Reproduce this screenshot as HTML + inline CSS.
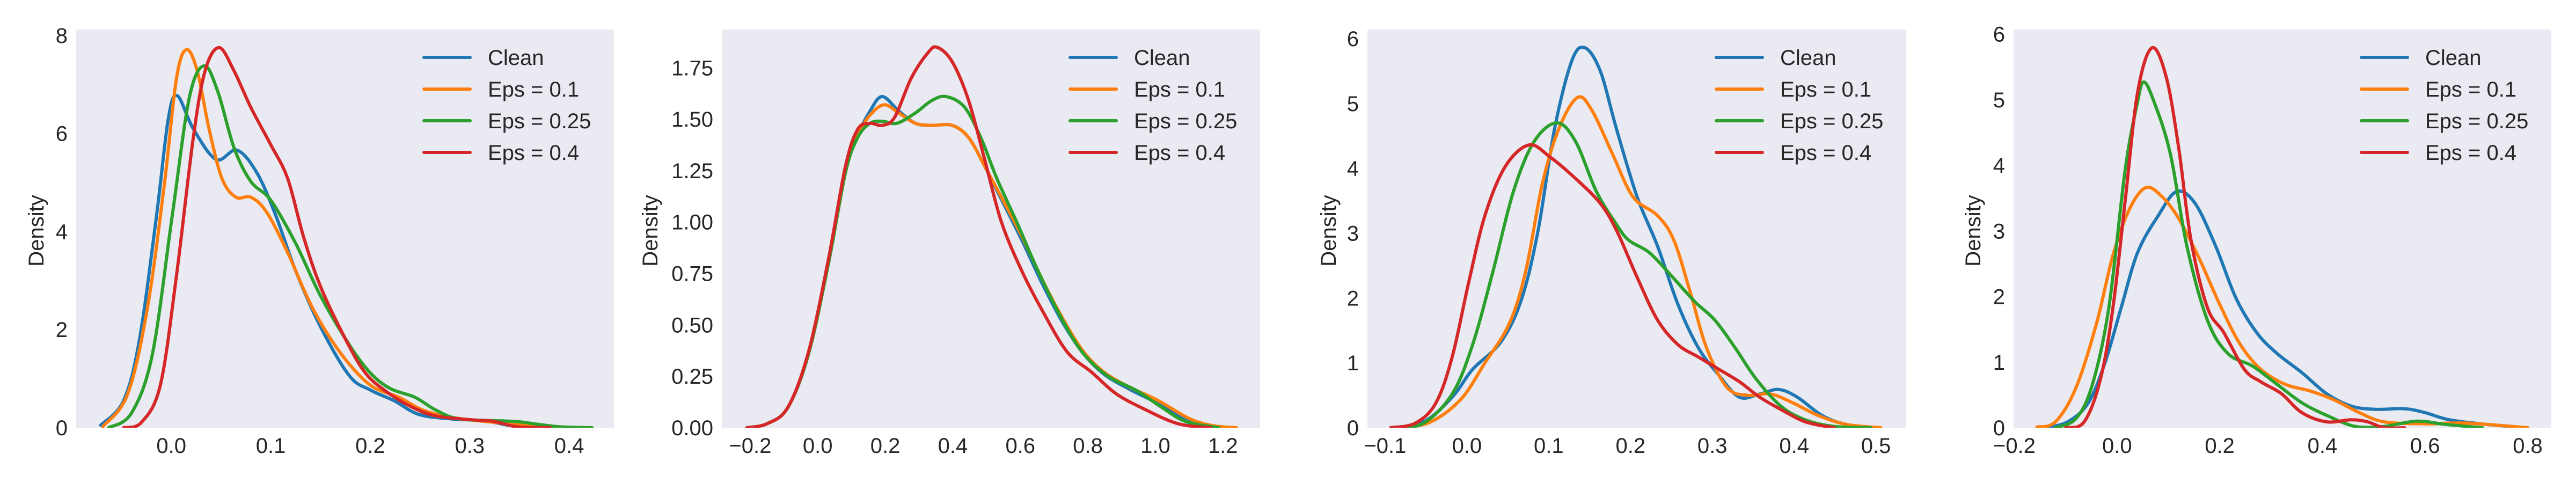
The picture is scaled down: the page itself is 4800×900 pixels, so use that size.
<!DOCTYPE html>
<html><head><meta charset="utf-8">
<style>
html,body{margin:0;padding:0;background:#fff;}
svg{display:block;font-family:"Liberation Sans",Arial,sans-serif;}
</style></head>
<body>
<svg id="fig" width="4800" height="900" viewBox="0 0 4800 900" xmlns="http://www.w3.org/2000/svg"></svg>
<script>
const seriesNames = ["Clean","Eps = 0.1","Eps = 0.25","Eps = 0.4"];
const seriesColors = ["#1f77b4","#ff7f0e","#2ca02c","#d62728"];

// Panel 1
const p1XTicks = [0.0,0.1,0.2,0.3,0.4];
const p1XLabels = ["0.0","0.1","0.2","0.3","0.4"];
const p1YTicks = [0,2,4,6,8];
const p1YLabels = ["0","2","4","6","8"];
const p1Clean = [[-0.071,0.05],[-0.048,0.55],[-0.032,1.8],[-0.015,4.3],[-0.003,6.3],[0.006,6.77],[0.022,6.1],[0.045,5.47],[0.066,5.66],[0.086,5.2],[0.105,4.33],[0.125,3.2],[0.15,2.06],[0.179,1.06],[0.2,0.77],[0.224,0.55],[0.249,0.27],[0.282,0.18],[0.315,0.14],[0.348,0.02],[0.377,0]];
const p1Eps01 = [[-0.069,0.02],[-0.044,0.68],[-0.024,2.44],[-0.007,4.96],[0.005,7.1],[0.015,7.71],[0.026,7.28],[0.038,6.09],[0.051,5.08],[0.065,4.7],[0.08,4.7],[0.096,4.39],[0.117,3.57],[0.142,2.44],[0.171,1.5],[0.2,0.87],[0.229,0.62],[0.253,0.36],[0.282,0.21],[0.324,0.11],[0.365,0.03],[0.381,0]];
const p1Eps025 = [[-0.063,0],[-0.04,0.3],[-0.019,1.5],[0.001,4.33],[0.018,6.72],[0.033,7.38],[0.047,6.84],[0.063,5.71],[0.08,5.02],[0.1,4.64],[0.125,3.76],[0.15,2.69],[0.179,1.69],[0.2,1.12],[0.22,0.8],[0.245,0.62],[0.266,0.36],[0.29,0.18],[0.344,0.13],[0.365,0.08],[0.39,0.02],[0.423,0]];
const p1Eps04 = [[-0.048,0],[-0.03,0.11],[-0.011,0.87],[0.005,3.07],[0.022,5.9],[0.034,7.28],[0.048,7.75],[0.063,7.28],[0.08,6.53],[0.1,5.77],[0.117,5.08],[0.133,3.89],[0.15,2.88],[0.175,1.81],[0.195,1.12],[0.216,0.74],[0.241,0.43],[0.266,0.24],[0.303,0.16],[0.324,0.13],[0.348,0.02],[0.381,0]];

// Panel 2
const p2XTicks = [-0.2,0.0,0.2,0.4,0.6,0.8,1.0,1.2];
const p2XLabels = ["\u22120.2","0.0","0.2","0.4","0.6","0.8","1.0","1.2"];
const p2YTicks = [0,0.25,0.5,0.75,1.0,1.25,1.5,1.75];
const p2YLabels = ["0.00","0.25","0.50","0.75","1.00","1.25","1.50","1.75"];
const p2Clean = [[-0.21,0],[-0.149,0.02],[-0.088,0.1],[-0.027,0.36],[0.033,0.81],[0.082,1.24],[0.118,1.42],[0.155,1.54],[0.191,1.61],[0.24,1.54],[0.289,1.48],[0.337,1.47],[0.398,1.47],[0.447,1.41],[0.495,1.27],[0.544,1.11],[0.605,0.91],[0.665,0.7],[0.726,0.51],[0.787,0.36],[0.848,0.26],[0.92,0.19],[1.005,0.12],[1.09,0.045],[1.163,0.01],[1.236,0]];
const p2Eps01 = [[-0.21,0],[-0.149,0.02],[-0.088,0.1],[-0.027,0.36],[0.033,0.81],[0.082,1.24],[0.118,1.42],[0.155,1.52],[0.197,1.57],[0.24,1.53],[0.289,1.48],[0.337,1.47],[0.398,1.47],[0.447,1.41],[0.495,1.27],[0.544,1.12],[0.605,0.93],[0.665,0.72],[0.726,0.53],[0.787,0.37],[0.848,0.27],[0.92,0.2],[1.005,0.135],[1.1,0.045],[1.17,0.01],[1.24,0]];
const p2Eps025 = [[-0.21,0],[-0.149,0.02],[-0.088,0.1],[-0.027,0.36],[0.033,0.81],[0.082,1.24],[0.118,1.41],[0.155,1.48],[0.191,1.49],[0.234,1.48],[0.289,1.53],[0.337,1.59],[0.38,1.61],[0.434,1.56],[0.483,1.41],[0.531,1.21],[0.592,0.99],[0.653,0.76],[0.726,0.52],[0.787,0.36],[0.86,0.25],[0.945,0.18],[1.018,0.1],[1.09,0.03],[1.188,0]];
const p2Eps04 = [[-0.21,0],[-0.149,0.02],[-0.088,0.1],[-0.027,0.37],[0.033,0.83],[0.082,1.27],[0.118,1.45],[0.155,1.48],[0.191,1.47],[0.228,1.51],[0.277,1.7],[0.325,1.82],[0.353,1.85],[0.398,1.78],[0.447,1.59],[0.495,1.3],[0.544,1.0],[0.605,0.76],[0.665,0.57],[0.738,0.37],[0.811,0.27],[0.884,0.165],[0.968,0.09],[1.066,0.02],[1.163,0]];

// Panel 3
const p3XTicks = [-0.1,0.0,0.1,0.2,0.3,0.4,0.5];
const p3XLabels = ["\u22120.1","0.0","0.1","0.2","0.3","0.4","0.5"];
const p3YTicks = [0,1,2,3,4,5,6];
const p3YLabels = ["0","1","2","3","4","5","6"];
const p3Clean = [[-0.093,0],[-0.053,0.09],[-0.018,0.47],[0.007,0.9],[0.042,1.33],[0.067,1.99],[0.087,3.04],[0.107,4.6],[0.128,5.65],[0.144,5.86],[0.163,5.5],[0.183,4.6],[0.208,3.56],[0.233,2.8],[0.258,1.9],[0.283,1.23],[0.308,0.81],[0.333,0.47],[0.358,0.52],[0.381,0.59],[0.404,0.47],[0.434,0.19],[0.464,0.05],[0.504,0]];
const p3Eps01 = [[-0.093,0],[-0.048,0.07],[-0.008,0.43],[0.022,1.0],[0.052,1.61],[0.072,2.42],[0.092,3.75],[0.112,4.6],[0.135,5.09],[0.153,4.89],[0.178,4.22],[0.203,3.56],[0.233,3.27],[0.253,2.89],[0.273,2.09],[0.293,1.23],[0.318,0.62],[0.343,0.5],[0.371,0.52],[0.399,0.38],[0.429,0.19],[0.464,0.05],[0.506,0]];
const p3Eps025 = [[-0.088,0],[-0.053,0.07],[-0.018,0.52],[0.007,1.28],[0.032,2.42],[0.057,3.65],[0.082,4.41],[0.11,4.7],[0.133,4.41],[0.158,3.65],[0.183,3.13],[0.198,2.89],[0.223,2.7],[0.248,2.37],[0.278,1.95],[0.303,1.66],[0.328,1.23],[0.353,0.76],[0.384,0.33],[0.414,0.12],[0.449,0.02],[0.494,0]];
const p3Eps04 = [[-0.093,0],[-0.063,0.07],[-0.038,0.38],[-0.018,1.09],[0.002,2.23],[0.022,3.27],[0.047,4.03],[0.076,4.36],[0.102,4.17],[0.133,3.84],[0.163,3.46],[0.183,3.04],[0.208,2.32],[0.233,1.66],[0.258,1.28],[0.283,1.09],[0.308,0.9],[0.333,0.71],[0.358,0.47],[0.384,0.28],[0.414,0.09],[0.449,0]];

// Panel 4
const p4XTicks = [-0.2,0.0,0.2,0.4,0.6,0.8];
const p4XLabels = ["\u22120.2","0.0","0.2","0.4","0.6","0.8"];
const p4YTicks = [0,1,2,3,4,5,6];
const p4YLabels = ["0","1","2","3","4","5","6"];
const p4Clean = [[-0.14,0],[-0.096,0.09],[-0.056,0.38],[-0.024,0.98],[0.008,1.83],[0.04,2.67],[0.08,3.23],[0.116,3.6],[0.152,3.42],[0.192,2.77],[0.232,1.97],[0.272,1.45],[0.312,1.13],[0.36,0.84],[0.408,0.52],[0.456,0.33],[0.504,0.28],[0.56,0.29],[0.6,0.23],[0.648,0.12],[0.72,0.05],[0.8,0]];
const p4Eps01 = [[-0.156,0.01],[-0.12,0.09],[-0.08,0.61],[-0.04,1.59],[-0.008,2.63],[0.024,3.33],[0.056,3.66],[0.088,3.52],[0.12,3.19],[0.16,2.58],[0.2,1.88],[0.24,1.27],[0.28,0.89],[0.328,0.66],[0.376,0.56],[0.424,0.42],[0.472,0.23],[0.52,0.09],[0.6,0.06],[0.68,0.07],[0.8,0]];
const p4Eps025 = [[-0.12,0],[-0.08,0.14],[-0.048,0.66],[-0.016,1.83],[0.016,3.94],[0.04,4.97],[0.052,5.27],[0.072,4.97],[0.104,4.17],[0.136,2.77],[0.176,1.64],[0.216,1.13],[0.264,0.94],[0.312,0.66],[0.36,0.38],[0.408,0.19],[0.464,0.02],[0.52,0.02],[0.584,0.1],[0.64,0.05],[0.712,0]];
const p4Eps04 = [[-0.1,0],[-0.064,0.09],[-0.032,0.75],[-0.008,1.83],[0.016,3.47],[0.04,5.11],[0.068,5.79],[0.096,5.34],[0.12,4.27],[0.144,2.86],[0.176,1.83],[0.208,1.45],[0.248,0.89],[0.28,0.7],[0.32,0.52],[0.36,0.23],[0.408,0.09],[0.456,0.12],[0.488,0.09],[0.52,0],[0.56,0]];

const panels = [
  {left:142, right:1144, xmin:-0.0956, xmax:0.445, ymax:8.12, xt:p1XTicks, xl:p1XLabels, yt:p1YTicks, yl:p1YLabels, series:[p1Clean,p1Eps01,p1Eps025,p1Eps04], ylab:-75},
  {left:1345, right:2348, xmin:-0.284, xmax:1.31, ymax:1.936, xt:p2XTicks, xl:p2XLabels, yt:p2YTicks, yl:p2YLabels, series:[p2Clean,p2Eps01,p2Eps025,p2Eps04], ylab:-134},
  {left:2548, right:3552, xmin:-0.1216, xmax:0.537, ymax:6.14, xt:p3XTicks, xl:p3XLabels, yt:p3YTicks, yl:p3YLabels, series:[p3Clean,p3Eps01,p3Eps025,p3Eps04], ylab:-73},
  {left:3752, right:4754, xmin:-0.2016, xmax:0.846, ymax:6.07, xt:p4XTicks, xl:p4XLabels, yt:p4YTicks, yl:p4YLabels, series:[p4Clean,p4Eps01,p4Eps025,p4Eps04], ylab:-76}
];
const TOP = 55, BOTTOM = 797;
const NS = "http://www.w3.org/2000/svg";
const svg = document.getElementById('fig');
function mk(tag, attrs, parent){ const e=document.createElementNS(NS,tag); for(const k in attrs) e.setAttribute(k,attrs[k]); (parent||svg).appendChild(e); return e; }
function smoothPath(pts){
  let d = "M"+pts[0][0].toFixed(1)+","+pts[0][1].toFixed(1);
  for(let i=0;i<pts.length-1;i++){
    const p0=pts[Math.max(0,i-1)], p1=pts[i], p2=pts[i+1], p3=pts[Math.min(pts.length-1,i+2)];
    const c1x=p1[0]+(p2[0]-p0[0])/6, c1y=p1[1]+(p2[1]-p0[1])/6;
    const c2x=p2[0]-(p3[0]-p1[0])/6, c2y=p2[1]-(p3[1]-p1[1])/6;
    d+=" C"+c1x.toFixed(1)+","+c1y.toFixed(1)+" "+c2x.toFixed(1)+","+c2y.toFixed(1)+" "+p2[0].toFixed(1)+","+p2[1].toFixed(1);
  }
  return d;
}
panels.forEach((p, pi) => {
  const g = mk('g', {});
  
  
  const sx = v => p.left + (v - p.xmin) / (p.xmax - p.xmin) * (p.right - p.left);
  const sy = v => BOTTOM - v / p.ymax * (BOTTOM - TOP);
  const bg = mk('rect', {x:p.left, y:TOP, width:p.right-p.left, height:BOTTOM-TOP, fill:'#EAEAF2'}, g);
  
  
  const clipId = 'clip'+pi;
  const cp = mk('clipPath', {id:clipId}, g);
  mk('rect', {x:p.left, y:TOP, width:p.right-p.left, height:BOTTOM-TOP}, cp);
  p.xt.forEach((v, i) => {
    const t = mk('text', {x:sx(v), y:844, 'text-anchor':'middle', 'font-size':40, fill:'#262626'}, g);
    t.textContent = p.xl[i];
    
    
  });
  p.yt.forEach((v, i) => {
    const t = mk('text', {x:p.left-16, y:sy(v)+14, 'text-anchor':'end', 'font-size':40, fill:'#262626'}, g);
    t.textContent = p.yl[i];
    
    
  });
  const yl = mk('text', {x:0, y:0, transform:'translate('+(p.left+p.ylab+14)+',430) rotate(-90)', 'text-anchor':'middle', 'font-size':40, fill:'#262626'}, g);
  yl.textContent = 'Density';
  
  
  p.series.forEach((s, si) => {
    const pts = s.map(d => [sx(d[0]), sy(d[1])]);
    const path = mk('path', {d:smoothPath(pts), fill:'none', stroke:seriesColors[si], 'stroke-width':6, 'stroke-linejoin':'round', 'stroke-linecap':'round', 'clip-path':'url(#'+clipId+')'}, g);
    
    
  });
  const lg = mk('g', {}, g);
  
  
  seriesNames.forEach((n, si) => {
    const y = 107 + si * 59;
    const e = mk('g', {}, lg);
    
    
    mk('line', {x1:p.right-354, x2:p.right-268, y1:y, y2:y, stroke:seriesColors[si], 'stroke-width':6, 'stroke-linecap':'round'}, e);
    const t = mk('text', {x:p.right-235, y:y+14, 'font-size':40, fill:'#262626'}, e);
    t.textContent = n;
  });
});
</script>
</body></html>
